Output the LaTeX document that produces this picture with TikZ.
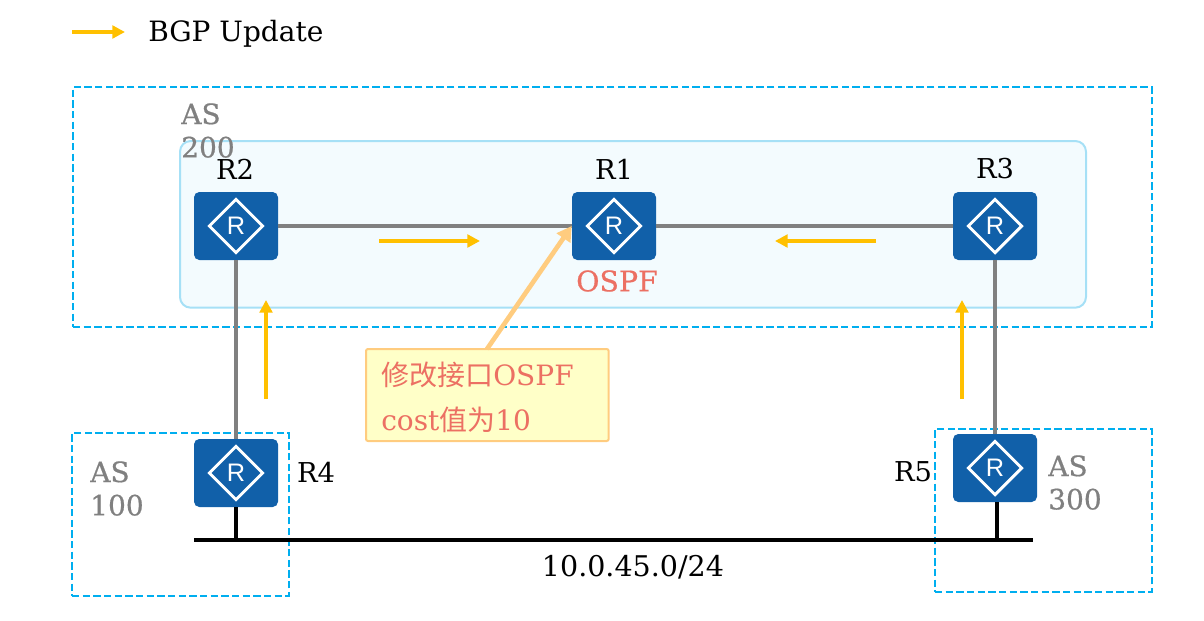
\documentclass[tikz,border=0pt]{standalone}
\usepackage{fontspec}
\usetikzlibrary{arrows.meta}
\setmainfont{DejaVu Serif}
\setsansfont{Liberation Sans}
\newfontfamily\cjk{Noto Sans CJK SC}
\newfontfamily\heavy[FakeBold=0.6]{DejaVu Serif}
\definecolor{routerblue}{HTML}{1160A9}
\definecolor{updatecolor}{HTML}{FFC000}
\definecolor{asline}{HTML}{00AEEF}
\definecolor{ospfline}{HTML}{A6E0F6}
\definecolor{ospffill}{HTML}{F3FBFE}
\definecolor{notefill}{HTML}{FFFFC8}
\definecolor{noteline}{HTML}{FFCC7F}
\definecolor{notetext}{HTML}{EC7063}
\tikzset{
    router/.style={rectangle, rounded corners=4pt, fill=routerblue, minimum width=63pt, minimum height=51pt, inner sep=0pt, text=white, font=\sffamily\fontsize{19}{19}\selectfont,
        path picture={\draw[white, line width=2.2pt, sharp corners] (path picture bounding box.center) +(-20pt,0) -- +(0,20pt) -- +(20pt,0) -- +(0,-20pt) -- cycle;}},
    label/.style={inner sep=0pt, font=\fontsize{20.5}{20.5}\selectfont},
    asname/.style={inner sep=0pt, align=left, text=gray, font=\heavy\fontsize{21}{25}\selectfont},
    asbox/.style={draw=asline, line width=1.5pt, dash pattern=on 5.5pt off 2.5pt},
    link/.style={draw=gray, line width=2.4pt},
    update/.style={-{Triangle[length=9.5pt,width=9.5pt]}, draw=updatecolor, fill=updatecolor, line width=3pt},
    bus/.style={line width=2.4pt}
}
\begin{document}
\begin{tikzpicture}[x=0.75pt, y=-0.75pt, >=stealth]
    \useasboundingbox (0,0) rectangle (1204,621);
    % legend
    \coordinate (lega) at (72,32);
    \coordinate (legb) at (125,32);
    \draw[update] (lega) -- (legb);
    \node[label, anchor=west, font=\fontsize{21}{21}\selectfont] (legend) at (148,34) {BGP Update};
    % AS areas
    \node[asbox, minimum width=809pt, minimum height=180pt, inner sep=0pt, anchor=north west] (as200) at (72,86) {};
    \node[draw=ospfline, fill=ospffill, line width=1.5pt, rounded corners=8pt, minimum width=679.5pt, minimum height=125pt, inner sep=0pt, anchor=north west] (ospf) at (179,140) {};
    \node[asbox, minimum width=162.5pt, minimum height=122pt, inner sep=0pt, anchor=north west] (as100) at (71,432) {};
    \node[asbox, minimum width=162.5pt, minimum height=122pt, inner sep=0pt, anchor=north west] (as300) at (934,428) {};
    \node[asname, anchor=north west] (as200name) at (181,103) {AS\\200};
    \node[asname, anchor=north west] (as100name) at (90,461) {AS\\100};
    \node[asname, anchor=north west] (as300name) at (1048,455) {AS\\300};
    % routers
    \node[router] (r2) at (236,226) {R};
    \node[router] (r1) at (614,226) {R};
    \node[router] (r3) at (995,226) {R};
    \node[router] (r4) at (236,473) {R};
    \node[router] (r5) at (995,468) {R};
    \node[label] (r2name) at (235,169) {R2};
    \node[label] (r1name) at (614,169) {R1};
    \node[label] (r3name) at (995,169) {R3};
    \node[label] (r4name) at (316,472) {R4};
    \node[label] (r5name) at (913,472) {R5};
    \node[label, text=notetext, font=\heavy\fontsize{21.3}{21.3}\selectfont] (ospfname) at (617,281) {OSPF};
    % links
    \draw[link] (r2) -- (r1);
    \draw[link] (r1) -- (r3);
    \draw[link] (r2) -- (r4);
    \draw[link] (r3) -- (r5);
    % shared segment
    \coordinate (busa) at (194,540);
    \coordinate (busb) at (1033,540);
    \draw[bus] (busa) -- (busb);
    \draw[bus] (r4.south) -- (r4.south |- busa);
    \draw[bus] ([xshift=1.5pt]r5.south) -- ([xshift=1.5pt]r5.south |- busa);
    \node[label, font=\fontsize{21.4}{21.4}\selectfont] (busname) at (633,567) {10.0.45.0/24};
    % updates
    \coordinate (ua) at (379,241);
    \coordinate (ub) at (480,241);
    \coordinate (uc) at (876,241);
    \coordinate (ud) at (775,241);
    \coordinate (ue) at (266,399);
    \coordinate (uf) at (266,300);
    \coordinate (ug) at (962,399);
    \coordinate (uh) at (962,300);
    \draw[update] (ua) -- (ub);
    \draw[update] (uc) -- (ud);
    \draw[update] (ue) -- (uf);
    \draw[update] (ug) -- (uh);
    % note
    \node[draw=noteline, fill=notefill, line width=1.5pt, rounded corners=1.5pt, minimum width=182pt, minimum height=69pt, inner sep=0pt, anchor=north west] (note) at (365,348) {};
    \node[inner sep=0pt, anchor=north west, align=left, text=notetext, font=\fontsize{21}{33.5}\selectfont] (notetxt) at (381,362) {{\cjk 修改接口}OSPF\\cost{\cjk 值为}10};
    \coordinate (notefoot) at (487,349);
    \draw[-{Triangle[length=11pt,width=12pt]}, draw=noteline, fill=noteline, line width=3.5pt] (notefoot) -- (r1.west);
\end{tikzpicture}
\end{document}
